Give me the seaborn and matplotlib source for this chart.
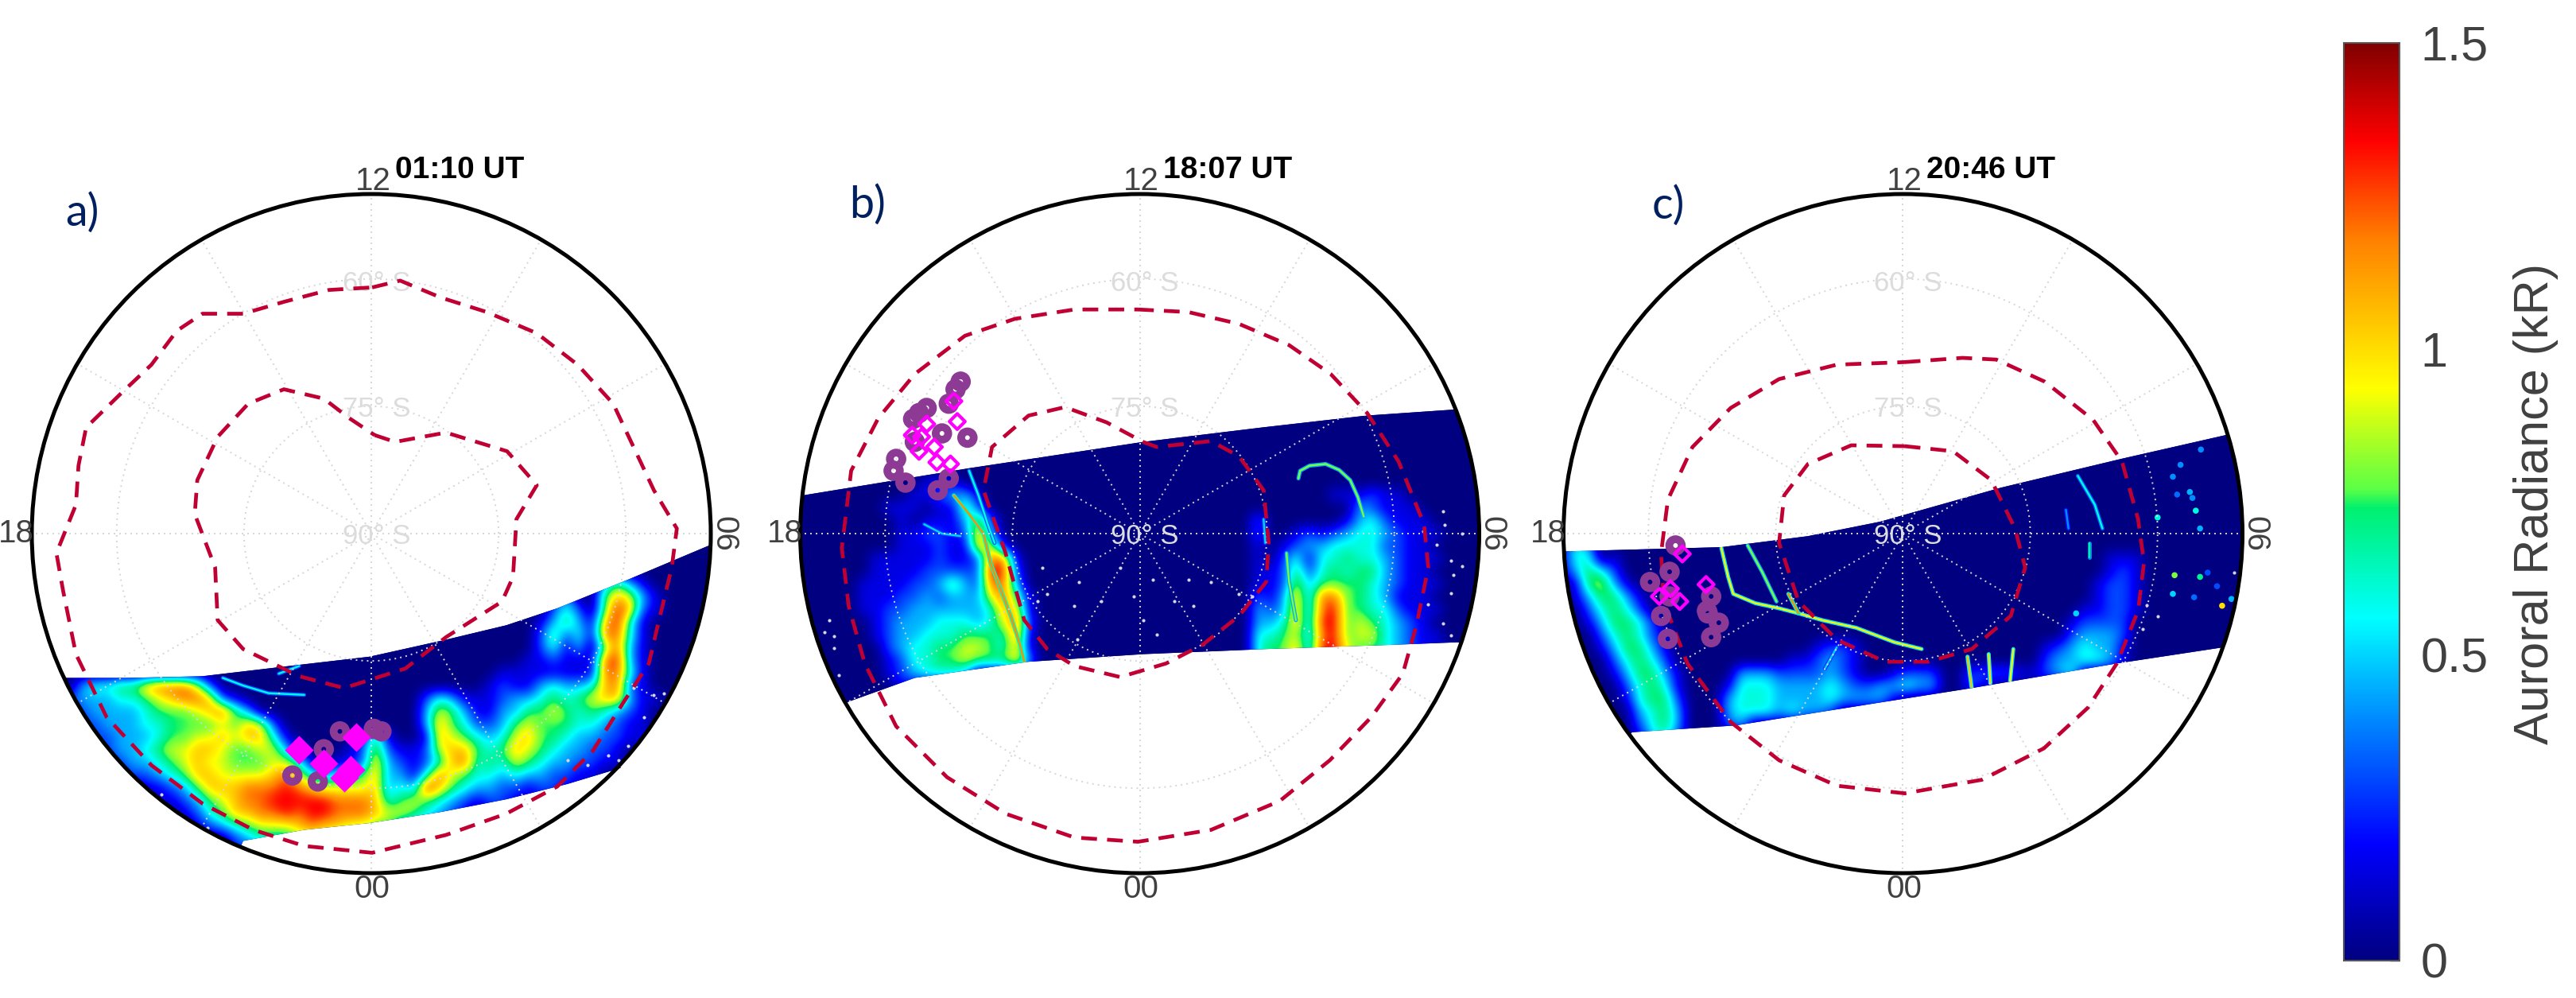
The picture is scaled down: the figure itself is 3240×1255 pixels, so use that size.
import numpy as np
import seaborn as sns
import matplotlib.pyplot as plt
from matplotlib.colors import LinearSegmentedColormap, Normalize
from matplotlib.cm import ScalarMappable
from matplotlib.patches import Circle

# everything is in degrees from the pole: x towards 06 MLT, y towards 12 MLT
times = ['01:10 UT', '18:07 UT', '20:46 UT']
letters = ['a)', 'b)', 'c)']
ring_colats = [15, 30]
ring_names = ['90° S', '75° S', '60° S']
hour_names = ['12', '18', '00', '06']
cbar_ticks = [0, 0.5, 1, 1.5]
cbar_names = ['0', '0.5', '1', '1.5']

# colour scale: radiance, r, g, b
scale_vals = [0, 0.19, 0.38, 0.56, 0.74, 0.77, 0.935, 1.18, 1.34, 1.5]
scale_cols = [(0, 0, 128), (0, 0, 255), (0, 128, 255), (0, 255, 255), (0, 240, 110),
              (90, 255, 70), (255, 255, 0), (255, 128, 0), (255, 0, 0), (128, 0, 0)]

# oval boundaries
a_outer_x = [0.1, 3.4, 8.2, 13.6, 19.5, 24.3, 28.5, 30.9, 33.3, 36.0, 35.4, 33.9, 32.7, 29.7, 26.1, 21.9, 15.9, 8.8, 0.1, -7.9, -13.9, -19.9, -25.9, -31.2, -34.8, -36.3, -37.1, -34.8, -34.5, -33.6, -29.5, -25.9, -22.9, -19.9, -15.1, -10.3, -5.0]
a_outer_y = [29.0, 29.8, 27.8, 26.1, 23.6, 19.9, 15.3, 10.2, 5.1, 0.6, -4.0, -10.2, -15.3, -19.9, -25.6, -29.8, -33.0, -35.5, -37.6, -36.8, -34.9, -31.8, -27.3, -21.6, -14.2, -6.8, -2.3, 3.4, 8.0, 12.5, 16.5, 19.9, 23.9, 25.9, 25.9, 27.3, 28.7]
a_inner_x = [0.4, 2.8, 8.8, 16.0, 19.5, 17.1, 16.7, 15.4, 8.8, 4.0, -3.2, -8.5, -15.1, -18.1, -18.4, -20.8, -20.5, -18.1, -14.5, -10.3, -5.6, -2.6]
a_inner_y = [11.6, 10.8, 11.9, 9.7, 5.7, 1.7, -5.1, -8.0, -12.2, -15.9, -18.2, -16.8, -13.6, -10.2, -4.0, 2.3, 6.3, 11.4, 15.3, 17.0, 15.9, 13.6]
b_outer_x = [-0.2, 5.7, 11.7, 17.6, 22.5, 26.8, 30.5, 33.5, 34.0, 32.6, 31.0, 27.3, 22.4, 16.5, 8.4, -0.2, -7.7, -15.8, -22.7, -28.7, -32.4, -34.3, -35.1, -34.0, -30.8, -26.5, -20.6, -14.7, -7.7]
b_outer_y = [26.4, 26.1, 24.7, 22.2, 18.8, 14.2, 8.5, 1.1, -4.0, -10.8, -16.5, -21.6, -26.7, -31.5, -34.9, -36.3, -35.8, -33.0, -28.7, -22.7, -15.3, -8.5, -1.7, 7.4, 13.6, 18.8, 23.3, 25.3, 26.4]
b_inner_x = [0.4, 2.0, 8.4, 11.7, 14.6, 15.2, 14.9, 11.7, 7.4, 3.1, -2.3, -7.7, -10.9, -13.6, -15.8, -18.4, -17.4, -13.1, -8.8, -3.9]
b_inner_y = [10.8, 10.2, 10.9, 9.1, 5.1, -1.1, -5.7, -9.7, -13.1, -15.3, -16.9, -15.6, -13.6, -10.2, -2.3, 5.1, 10.2, 13.9, 14.9, 13.1]
c_outer_x = [0.2, 7.0, 11.0, 16.7, 22.4, 25.8, 27.7, 28.4, 27.7, 25.2, 21.8, 16.6, 9.3, 0.2, -7.8, -14.6, -20.3, -25.4, -28.2, -28.5, -27.7, -24.8, -20.3, -14.6, -7.8]
c_outer_y = [20.2, 20.7, 20.5, 17.9, 13.4, 8.5, 1.7, -3.4, -9.1, -15.3, -20.5, -25.3, -29.0, -30.6, -29.7, -26.7, -22.2, -15.3, -8.0, -2.3, 4.0, 10.2, 14.8, 18.2, 19.9]
c_inner_x = [0.2, 5.9, 10.4, 13.2, 14.4, 12.7, 8.1, 3.0, -2.1, -7.8, -12.3, -14.6, -14.0, -11.2, -6.1]
c_inner_y = [10.3, 9.7, 6.3, 0.6, -4.0, -9.7, -13.6, -15.1, -15.1, -12.5, -8.0, -1.1, 4.5, 8.2, 10.4]

# swath edges, left to right, ends sit on the outer circle
a_top_x = [-36.0, -28.9, -19.9, -9.7, -0.2, 8.8, 15.9, 21.9, 30.3, 39.8]
a_top_y = [-17.0, -17.0, -16.8, -15.6, -14.5, -12.5, -10.8, -8.8, -5.4, -1.4]
a_bot_x = [-15.1, -7.9, -0.2, 8.2, 15.9, 23.1, 29.4]
a_bot_y = [-36.2, -34.9, -34.1, -32.8, -31.3, -29.5, -27.6]
b_top_x = [-39.7, -20.1, 0.4, 14.4, 26.7, 36.9]
b_top_y = [4.5, 7.7, 10.8, 12.5, 13.9, 14.6]
b_bot_x = [-34.3, -26.5, -13.1, 0.4, 14.9, 29.9, 37.5]
b_bot_y = [-19.8, -17.0, -15.1, -14.2, -13.6, -13.1, -12.8]
c_top_x = [-39.9, -21.4, -11.2, -2.7, 11.5, 25.7, 38.0]
c_top_y = [-2.1, -1.6, -0.3, 1.4, 5.4, 8.8, 11.6]
c_bot_x = [-31.9, -19.7, -2.7, 8.1, 25.2, 37.7]
c_bot_y = [-23.4, -22.6, -19.9, -18.2, -15.3, -13.4]

# radiance read by eye, in steps of 0.15 kR. columns are 1.5 deg apart from x=-40,
# rows 1.5 deg apart going down from the first y
a_first_y = -1.5
a_rows = [
    "", "", "",
    "0000 0000 0000 0000 0000 0000 0000 0000 0000 0000 0000 0353 1000",
    "0000 0000 0000 0000 0000 0000 0000 0000 0000 0000 0130 0576 3100",
    "0000 0000 0000 0000 0000 0000 0000 0000 0000 0000 0242 0597 2100",
    "0000 0000 0000 0000 0000 0000 0000 0000 0000 0000 1353 1794 1000",
    "0000 0000 0000 0000 0000 0000 0000 0000 0000 0000 2524 1884 1000",
    "0000 0000 0000 0000 0000 0000 0000 0000 0000 0000 2413 0583 1000",
    "0000 0000 0000 0000 0000 0000 0000 0000 0000 0001 1211 1893 1000",
    "0000 0000 0000 0000 0000 0000 0000 0000 0000 0111 1111 1884 1000",
    "0000 3445 5788 8620 0000 0000 0000 0000 0000 1211 3433 4782 1000",
    "0012 3334 4567 8872 1000 0000 0000 0002 4311 1233 4545 6773 1100",
    "0001 2333 3455 5678 5300 0000 0000 0003 6531 1335 5654 5432 1000",
    "0000 2233 3445 5556 5762 0000 0000 0003 7542 2356 5554 4321 1000",
    "0000 1223 3345 5667 6774 1000 0015 1001 7654 3467 5543 3221 1000",
    "0000 0123 3456 6776 5566 3100 0126 2112 6775 4576 5433 2210 1000",
    "0000 0012 3345 6766 5556 6410 1127 3212 4784 5465 4332 2110",
    "0000 0001 2234 5776 6667 8643 4457 3314 8654 4343 3221 1000",
    "0000 0000 0112 3577 7888 9876 6667 3439 7543 3221 2211 1000",
    "0000 0000 0011 2356 7889 9999 8887 4565 4321 2211 1100",
    "0000 0000 0000 1245 7788 9899 8887 6654 3210 1100",
    "0000 0000 0000 0123 4566 6787 7665 5332 2100",
    "0000 0000 0000 0000 2344 4555 4433 2100",
    "0000 0000 0000 0000 1222 2222 1100",
    "",
]
b_first_y = 15.0
b_rows = [
    "", "", "", "", "", "",
    "0000 0000 0011 1000",
    "0000 0000 0112 3310 0000 0000 0000 0000 0000 0000 0011 1211",
    "0000 0001 1101 1520 0000 0000 0000 0000 0000 0000 0000 3211 1000",
    "0000 0000 1011 1362 0000 0000 0000 0000 0000 2000 0001 3421 1100",
    "0000 0000 1122 1273 0000 0000 0000 0000 0000 2001 2123 4432 1110",
    "0000 0000 1112 1176 1000 0000 0000 0000 0000 1012 3344 4422 1100",
    "0000 0011 1112 1128 8100 0000 0000 0000 0000 1024 1445 4432 1110",
    "0000 0011 1122 2229 9200 0000 0000 0000 0000 1125 2454 5532 1100",
    "0000 0111 1223 5328 8300 0000 0000 0000 0000 1126 3555 5432 1110",
    "0000 0111 2232 3336 8510 0000 0000 0000 0000 2137 3885 5431 1100",
    "0000 0112 2333 3334 7710 0000 0000 0000 0000 3237 3895 5442 1110",
    "0000 0012 3334 4434 6820 0000 0000 0000 0000 3347 3995 6543 2100",
    "0000 0012 3344 4555 4810 0000 0000 0000 0000 4456 3895 6643 2110",
    "0000 0002 3445 5665 4710 0000 0000 0000 0000 4557 3996 5543 2110",
    "0000 0001 2445 5655 5730 0000 0000 0000 0000 4557 3996 5543 2110",
    "0000 0001 2344 4300",
    "0000 0000 1100",
    "",
]
c_first_y = 12.0
c_rows = [
    "", "", "", "", "", "", "", "", "",
    "1430",
    "1440 1000 0000 0000 0000 0000 0000 0000 0000 0000 0001 1100",
    "1354 2000 0000 0000 0000 0000 0000 0000 0000 0000 0001 2100",
    "0156 3100 0000 0000 0000 0000 0000 0000 0000 0000 0012 2100",
    "0135 5310 0000 0000 0000 0000 0000 0000 0000 0000 0012 2100",
    "0024 5420 0000 0000 0000 0000 0000 0000 0000 0000 0112 2100",
    "0013 5542 0000 0000 0000 0000 0000 0000 0000 0000 1222 2000",
    "0002 4542 1000 0000 0000 0000 0000 0000 0000 0000 2333 2000",
    "0001 3553 1000 0000 0000 1221 0000 0000 0000 0012 3433 1000",
    "0000 2454 2000 0000 0011 2321 0000 0000 0000 0023 3443 1000",
    "0000 1355 3100 0033 3222 2321 0012 2200 2222 1123 4000",
    "0000 0245 4100 0144 4333 3432 2334 3300 2100",
    "0000 0145 5200 0344 4333 3433 3310",
    "0000 0034 5300 0344 4343 3200",
    "0000 0024 5300 0230",
    "0000 0013 4200",
]

# thin bright arcs: x list, y list, radiance
a_arcs = [([-17.5, -15.1, -12.1, -7.9], [-17.0, -17.9, -18.8, -19.0], 0.55),
          ([-10.9, -8.5], [-16.5, -15.6], 0.55)]
b_arcs = [([-21.9, -20.1, -18.4, -17.6, -16.3, -15.2, -14.1, -13.6], [4.5, 2.3, 0, -3.4, -6.8, -9.7, -13.1, -15.1], 1.15),
          ([-20.1, -19.0, -17.9, -17.1], [7.4, 4.5, 1.1, -1.1], 0.6),
          ([-25.4, -23.3, -21.1], [1.1, 0, -0.3], 0.5),
          ([18.7, 18.9, 20.0, 21.9, 23.5, 24.8, 25.7, 26.4], [6.5, 7.4, 8.0, 8.2, 7.5, 6.3, 4.3, 2.0], 0.8),
          ([14.6, 14.8], [1.7, -1.1], 0.5),
          ([17.3, 17.6, 18.4], [-2.3, -5.7, -10.2], 0.8)]
c_arcs = [([-21.4, -20.6, -20.0, -17.4, -14.6, -12.3, -9.5, -5.5, -1.0, 2.2], [-1.7, -5.1, -7.1, -8.2, -8.8, -9.4, -10.2, -11.1, -12.8, -13.6], 0.95),
          ([-18.3, -16.6, -14.9], [-1.4, -4.5, -8.0], 0.8),
          ([-13.5, -12.3], [-7.1, -9.4], 1.15),
          ([7.6, 8.1], [-14.5, -18.2], 1.05),
          ([10.1, 10.3], [-14.2, -17.6], 1.0),
          ([13.0, 12.6], [-13.6, -17.6], 0.95),
          ([20.6, 22.6, 23.5], [6.8, 3.4, 0.6], 0.6),
          ([22.0, 22.0], [-1.1, -2.8], 0.7),
          ([19.2, 19.5], [2.8, 0.6], 0.4),
          ([-7.8, -9.2], [-13.4, -15.9], 0.5)]

# ground stations
a_circ_x = [-3.7, 0.3, 1.2, -9.3, -6.3, -5.6]
a_circ_y = [-23.3, -23.0, -23.3, -28.5, -29.2, -25.4]
a_diam_x = [-8.5, -5.6, -1.8, -2.4, -3.2]
a_diam_y = [-25.5, -27.1, -24.0, -27.8, -28.8]
b_circ_x = [-21.1, -21.7, -22.5, -25.1, -26.0, -26.7, -23.3, -20.3, -26.5, -28.7, -29.0, -27.6, -23.8, -22.5]
b_circ_y = [17.9, 17.0, 15.3, 14.8, 14.2, 13.5, 11.8, 11.3, 10.8, 8.8, 7.4, 6.0, 5.1, 6.5]
b_diam_x = [-21.9, -21.5, -25.1, -26.8, -26.0, -24.2, -23.9, -22.3, -25.7]
b_diam_y = [15.6, 13.2, 12.9, 11.6, 9.7, 10.2, 8.4, 8.2, 11.4]
c_circ_x = [-26.8, -29.8, -27.5, -28.5, -27.7, -22.6, -23.0, -21.7, -22.6, -23.1, -27.5]
c_circ_y = [-1.4, -5.7, -4.5, -9.7, -12.4, -7.4, -9.4, -10.5, -12.2, -9.1, -7.4]
c_diam_x = [-28.7, -26.3, -27.4, -26.0, -23.2]
c_diam_y = [-7.4, -8.0, -6.5, -2.4, -6.0]

# stray pixels
a_spec_x = [29.1, 30.3, 25.5, 34.5, 33.3, 30.9, 23.1, -24.7, -22.9, -19.3, 32.1, 27.9]
a_spec_y = [-26.7, -25.0, -27.3, -18.8, -19.0, -18.2, -26.7, -30.7, -33.0, -34.7, -21.6, -26.1]
b_spec_x = [-11.5, -10.9, -7.2, -2.3, -0.7, 1.5, 5.8, 8.4, 2.0, 0.4, -4.5, -7.4, -7.7, 11.7, 13.3, 4.1, 6.3, -12.0, 35.7, 35.9, 36.7, 38.0, 37.0, 36.7, 33.4, 38.0, 35.0, 34.0, 36.7, 35.7, -36.6, -37.1, -36.0, -36.0, -35.5]
b_spec_y = [-4.0, -7.1, -5.7, -4.0, -7.4, -5.4, -5.4, -5.7, -11.9, -10.2, -8.0, -12.5, -8.5, -7.1, -7.4, -8.0, -8.5, -8.0, 2.6, 1.0, -3.2, -3.8, -4.9, -7.0, 0.3, 0.0, -1.3, -8.3, -12.0, -10.6, -10.2, -11.6, -12.1, -13.5, -16.7]
c_spec_x = [28.7, 28.2, 30.0, 39.0]
c_spec_y = [-8.4, -11.2, -9.7, -4.6]
c_blob_x = [35.1, 32.7, 31.8, 32.3, 33.8, 34.1, 34.5, 35.0, 30.0, 32.0, 35.0, 35.9, 31.8, 34.3, 37.6, 38.7, 37.0, 20.4]
c_blob_y = [9.9, 8.1, 6.7, 4.6, 4.9, 4.2, 2.7, 0.6, 1.9, -4.9, -5.1, -4.6, -7.1, -7.5, -8.5, -7.7, -6.2, -9.4]
c_blob_v = [0.4, 0.4, 0.4, 0.35, 0.45, 0.4, 0.6, 0.45, 0.6, 0.8, 0.7, 0.3, 0.5, 0.35, 1.0, 0.45, 0.3, 0.5]

W, H = 3240, 1255
R_MAX = 40
PX_PER_DEG = 427 / 40
CENTRES = [467, 1433.5, 2393.5]
CY = 671
HALF = 460
TEXT = '#404040'
GRID = '#d6d6d6'
RED = '#c00032'
PURPLE = '#8d3a95'
MAGENTA = '#ff00ff'
NAVY = '#002060'

sns.set_theme(style='white')
plt.rcParams['font.family'] = ['Liberation Sans', 'DejaVu Sans']

cmap = LinearSegmentedColormap.from_list(
    'aurora', [(v / 1.5, tuple(c / 255 for c in rgb)) for v, rgb in zip(scale_vals, scale_cols)], N=512)
norm = Normalize(0, 1.5)


def parse_rows(rows):
    out = []
    for row in rows:
        row = row.replace(' ', '').ljust(54, '0')
        out.append([int(c) * 0.15 for c in row])
    return np.array(out)


def swath_outline(top_x, top_y, bot_x, bot_y):
    # top edge, down the circle on the right, bottom edge backwards, up the circle on the left
    t1 = np.arctan2(top_y[-1], top_x[-1])
    t2 = np.arctan2(bot_y[-1], bot_x[-1])
    right = np.linspace(t1, t2, 30)
    t3 = np.arctan2(bot_y[0], bot_x[0]) % (2 * np.pi)
    t4 = np.arctan2(top_y[0], top_x[0]) % (2 * np.pi)
    left = np.linspace(t3, t4, 30)
    xs = list(top_x) + list(R_MAX * np.cos(right)) + list(bot_x[::-1]) + list(R_MAX * np.cos(left))
    ys = list(top_y) + list(R_MAX * np.sin(right)) + list(bot_y[::-1]) + list(R_MAX * np.sin(left))
    return xs, ys


def draw_panel(ax, name, letter, top, bot, rows, first_y, ovals, arcs, circ, diam, filled, spec):
    xs, ys = swath_outline(top[0], top[1], bot[0], bot[1])
    clip = ax.fill(xs, ys, color=cmap(0.0), lw=0, zorder=1)[0]

    grid = parse_rows(rows)
    top_edge = first_y + 0.75
    bottom_edge = first_y + 0.75 - 1.5 * grid.shape[0]
    im = ax.imshow(grid, cmap=cmap, norm=norm, interpolation='bicubic', interpolation_stage='data',
                   extent=(-40.75, -40.75 + 81, bottom_edge, top_edge), origin='upper', aspect='auto', zorder=2)
    im.set_clip_path(clip)

    for ax_x, ax_y, val in arcs:
        sns.lineplot(x=ax_x, y=ax_y, sort=False, estimator=None, color=cmap(norm(val * 0.55)), lw=3.6, ax=ax, zorder=3)
        ax.lines[-1].set_clip_path(clip)
        sns.lineplot(x=ax_x, y=ax_y, sort=False, estimator=None, color=cmap(norm(val)), lw=1.7, ax=ax, zorder=3)
        ax.lines[-1].set_clip_path(clip)

    sns.scatterplot(x=spec[0], y=spec[1], color='#d5d5e5', s=9, linewidth=0, ax=ax, zorder=4, legend=False)

    # polar grid
    tt = np.linspace(0, 2 * np.pi, 361)
    for rc in ring_colats:
        ax.plot(rc * np.cos(tt), rc * np.sin(tt), color=GRID, lw=1.4, ls=(0, (1, 2.6)), zorder=5)
    for deg in range(0, 360, 30):
        a = np.deg2rad(deg)
        ax.plot([0, R_MAX * np.cos(a)], [0, R_MAX * np.sin(a)], color=GRID, lw=1.4, ls=(0, (1, 2.6)), zorder=5)

    for lab, ly in zip(ring_names, [-0.3, 14.7, 29.5]):
        ax.text(0.6, ly, lab, fontsize=25, color='#dcdcdc', ha='center', va='center', zorder=6)

    for ox, oy in ovals:
        sns.lineplot(x=ox + ox[:1], y=oy + oy[:1], sort=False, estimator=None, color=RED, lw=3.4,
                     linestyle=(0, (4.2, 2.7)), ax=ax, zorder=7)

    sns.scatterplot(x=circ[0], y=circ[1], marker='o', s=130, facecolor='none', edgecolor=PURPLE, linewidth=7,
                    ax=ax, zorder=8, legend=False)
    if filled:
        sns.scatterplot(x=diam[0], y=diam[1], marker='D', s=340, color=MAGENTA, linewidth=0, ax=ax, zorder=9, legend=False)
    else:
        sns.scatterplot(x=diam[0], y=diam[1], marker='D', s=100, facecolor='none', edgecolor=MAGENTA, linewidth=3,
                        ax=ax, zorder=9, legend=False)

    ax.add_patch(Circle((0, 0), R_MAX, fill=False, ec='black', lw=3.6, zorder=10, clip_on=False))

    fs = 29
    ax.text(0.2, 41.5, hour_names[0], fontsize=fs, color=TEXT, ha='center', va='center', zorder=11)
    ax.text(-41.8, 0, hour_names[1], fontsize=fs, color=TEXT, ha='center', va='center', zorder=11)
    ax.text(0.1, -41.9, hour_names[2], fontsize=fs, color=TEXT, ha='center', va='center', zorder=11)
    ax.text(41.5, 0, hour_names[3], fontsize=fs, color=TEXT, rotation=270, ha='center', va='center', zorder=11)
    ax.text(2.8, 42.8, name, fontsize=28, fontweight='bold', color='black', ha='left', va='center', zorder=11)
    ax.text(letter[1], letter[2], letter[0], fontsize=40, color=NAVY, family='Lato', ha='left', va='center', zorder=11)

    lim = HALF / PX_PER_DEG
    ax.set_xlim(-lim, lim)
    ax.set_ylim(-lim, lim)
    ax.set_aspect('equal')
    ax.axis('off')


fig = plt.figure(figsize=(W / 100, H / 100), dpi=100)

panels = [
    ((letters[0], -36.0, 37.8), (a_top_x, a_top_y), (a_bot_x, a_bot_y), a_rows, a_first_y,
     [(a_outer_x, a_outer_y), (a_inner_x, a_inner_y)], a_arcs, (a_circ_x, a_circ_y), (a_diam_x, a_diam_y), True, (a_spec_x, a_spec_y)),
    ((letters[1], -34.2, 38.7), (b_top_x, b_top_y), (b_bot_x, b_bot_y), b_rows, b_first_y,
     [(b_outer_x, b_outer_y), (b_inner_x, b_inner_y)], b_arcs, (b_circ_x, b_circ_y), (b_diam_x, b_diam_y), False, (b_spec_x, b_spec_y)),
    ((letters[2], -29.6, 38.6), (c_top_x, c_top_y), (c_bot_x, c_bot_y), c_rows, c_first_y,
     [(c_outer_x, c_outer_y), (c_inner_x, c_inner_y)], c_arcs, (c_circ_x, c_circ_y), (c_diam_x, c_diam_y), False, (c_spec_x, c_spec_y)),
]

for cx, name, p in zip(CENTRES, times, panels):
    ax = fig.add_axes([(cx - HALF) / W, 1 - (CY + HALF) / H, 2 * HALF / W, 2 * HALF / H])
    letter, top, bot, rows, first_y, ovals, arcs, circ, diam, filled, spec = p
    draw_panel(ax, name, letter, top, bot, rows, first_y, ovals, arcs, circ, diam, filled, spec)
    if name == times[2]:
        sns.scatterplot(x=c_blob_x, y=c_blob_y, hue=c_blob_v, palette=cmap, hue_norm=norm, s=30, linewidth=0,
                        ax=ax, zorder=4, legend=False)

cax = fig.add_axes([2948 / W, 1 - 1208 / H, 70 / W, 1154 / H])
cbar = fig.colorbar(ScalarMappable(norm=norm, cmap=cmap), cax=cax)
cbar.set_ticks(cbar_ticks)
cbar.set_ticklabels(cbar_names)
cax.tick_params(axis='y', direction='in', length=9, width=1, color=TEXT, labelcolor=TEXT, labelsize=44, pad=-0)
cbar.outline.set_edgecolor('#555555')
cbar.outline.set_linewidth(1.5)
for t in cax.get_yticklabels():
    t.set_x(1.38)
fig.text(3190 / W, 1 - 634 / H, 'Auroral Radiance (kR)', rotation=90, fontsize=44, color=TEXT, ha='center', va='center')

fig.savefig('out.png', dpi=100)
